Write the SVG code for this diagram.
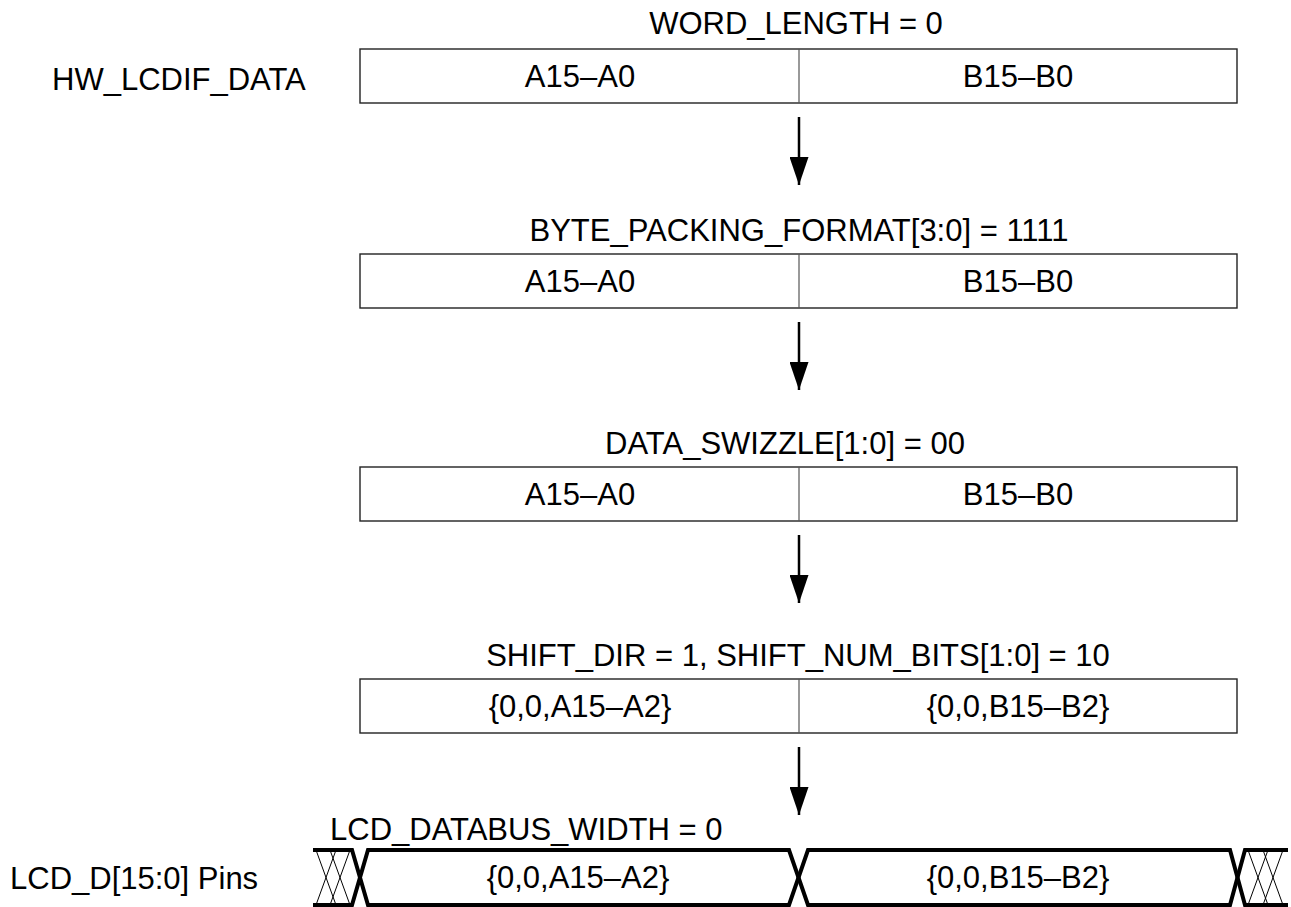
<svg xmlns="http://www.w3.org/2000/svg" width="1291" height="907" viewBox="0 0 1291 907">
<defs>
<style>
text{font-family:"Liberation Sans",Arial,sans-serif;font-size:31px;fill:#000}
.c{text-anchor:middle}
.box{fill:#fff;stroke:#222;stroke-width:1.4}
.div{stroke:#555;stroke-width:1.2}
.arr{stroke:#000;stroke-width:2.5;fill:none}
.bus{stroke:#000;stroke-width:4;fill:none;stroke-linejoin:miter}
.hatch{stroke:#000;stroke-width:1;fill:none}
</style>
<marker id="ah" markerWidth="28" markerHeight="19" refX="28" refY="9.5" orient="auto" markerUnits="userSpaceOnUse" viewBox="0 0 28 19">
<path d="M0,0 L28,9.5 L0,19 Z" fill="#000"/>
</marker>
</defs>
<rect width="1291" height="907" fill="#fff"/>
<g id="labels">
<text x="52" y="90">HW_LCDIF_DATA</text>
<text x="10" y="889">LCD_D[15:0] Pins</text>
</g>
<g id="reg1">
<text class="c" x="796" y="34">WORD_LENGTH = 0</text>
<rect class="box" x="360" y="49" width="877" height="54"/>
<line class="div" x1="799" y1="49" x2="799" y2="103"/>
<text class="c" x="580" y="87">A15–A0</text>
<text class="c" x="1018" y="87">B15–B0</text>
</g>
<g id="reg2">
<text class="c" x="799" y="241">BYTE_PACKING_FORMAT[3:0] = 1111</text>
<rect class="box" x="360" y="254" width="877" height="54"/>
<line class="div" x1="799" y1="254" x2="799" y2="308"/>
<text class="c" x="580" y="292">A15–A0</text>
<text class="c" x="1018" y="292">B15–B0</text>
</g>
<g id="reg3">
<text class="c" x="785" y="454">DATA_SWIZZLE[1:0] = 00</text>
<rect class="box" x="360" y="467" width="877" height="54"/>
<line class="div" x1="799" y1="467" x2="799" y2="521"/>
<text class="c" x="580" y="505">A15–A0</text>
<text class="c" x="1018" y="505">B15–B0</text>
</g>
<g id="reg4">
<text class="c" x="798" y="666">SHIFT_DIR = 1, SHIFT_NUM_BITS[1:0] = 10</text>
<rect class="box" x="360" y="679" width="877" height="54"/>
<line class="div" x1="799" y1="679" x2="799" y2="733"/>
<text class="c" x="580" y="717">{0,0,A15–A2}</text>
<text class="c" x="1018" y="717">{0,0,B15–B2}</text>
</g>
<g id="bus">
<text x="330" y="840">LCD_DATABUS_WIDTH = 0</text>
<path class="hatch" d="M316,850 L336,905 M336,850 L316,905 M330,850 L350,905 M350,850 L330,905 M1248,850 L1268,905 M1268,850 L1248,905 M1263,850 L1283,905 M1283,850 L1263,905"/>
<path class="bus" d="M313,850 L352,850 L368,905 L789,905 L808,850 L1230,850 L1245,905 L1288,905"/>
<path class="bus" d="M313,905 L352,905 L368,850 L789,850 L808,905 L1230,905 L1245,850 L1288,850"/>
<text class="c" x="578" y="888">{0,0,A15–A2}</text>
<text class="c" x="1018" y="888">{0,0,B15–B2}</text>
</g>
<g id="connectors">
<line class="arr" x1="799" y1="117" x2="799" y2="185" marker-end="url(#ah)"/>
<line class="arr" x1="799" y1="322" x2="799" y2="390" marker-end="url(#ah)"/>
<line class="arr" x1="799" y1="535" x2="799" y2="603" marker-end="url(#ah)"/>
<line class="arr" x1="799" y1="747" x2="799" y2="815" marker-end="url(#ah)"/>
</g>
</svg>
